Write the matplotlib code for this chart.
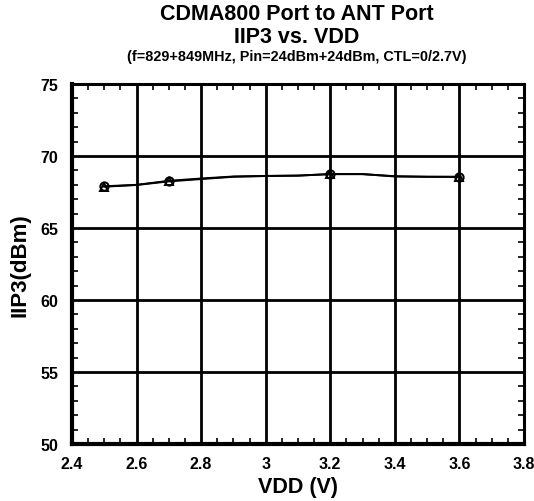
import matplotlib
matplotlib.use("Agg")
import matplotlib.pyplot as plt
from matplotlib.ticker import MultipleLocator

plt.rcParams['font.family'] = ['Liberation Sans', 'DejaVu Sans']
plt.rcParams['font.weight'] = 'bold'

vdd = [2.5, 2.6, 2.7, 2.8, 2.9, 3.0, 3.1, 3.2, 3.3, 3.4, 3.5, 3.6]
iip3_a = [67.87, 67.99, 68.24, 68.40, 68.56, 68.61, 68.64, 68.75, 68.75, 68.58, 68.56, 68.56]
iip3_b = [67.90, 68.00, 68.28, 68.44, 68.58, 68.62, 68.64, 68.74, 68.74, 68.60, 68.56, 68.55]
marker_idx = [0, 2, 7, 11]

fig = plt.figure(figsize=(5.34, 5.02), dpi=100)
ax = fig.add_axes([0.1348, 0.1135, 0.8464, 0.7171])

ax.plot(vdd, iip3_a, color='black', lw=1.4, marker='^', markevery=marker_idx,
        markersize=6, markerfacecolor='none', markeredgewidth=1.4)
ax.plot(vdd, iip3_b, color='black', lw=1.4, marker='o', markevery=marker_idx,
        markersize=6, markerfacecolor='none', markeredgewidth=1.4)

ax.set_xlim(2.4, 3.8)
ax.set_ylim(50, 75)
ax.xaxis.set_major_locator(MultipleLocator(0.2))
ax.xaxis.set_minor_locator(MultipleLocator(0.05))
ax.yaxis.set_major_locator(MultipleLocator(5))
ax.yaxis.set_minor_locator(MultipleLocator(1))
ax.set_xticks([2.4, 2.6, 2.8, 3.0, 3.2, 3.4, 3.6, 3.8])
ax.set_xticklabels(['2.4', '2.6', '2.8', '3', '3.2', '3.4', '3.6', '3.8'])

ax.grid(True, which='major', color='black', lw=2)
ax.tick_params(which='both', direction='in', top=True, right=True, labelsize=11.5)
ax.tick_params(axis='x', which='major', length=0, pad=8.5)
ax.tick_params(axis='y', which='major', length=0, pad=10)
ax.tick_params(which='minor', length=4, width=1.2)
for lab in ax.get_xticklabels() + ax.get_yticklabels():
    lab.set_fontweight('bold')

for s in ['left', 'bottom']:
    ax.spines[s].set_linewidth(3)
for s in ['top', 'right']:
    ax.spines[s].set_linewidth(2.2)

ax.set_xlabel('VDD (V)', fontsize=15.5, fontweight='bold', labelpad=4)
ax.set_ylabel('IIP3(dBm)', fontsize=16, fontweight='bold', labelpad=7)

fig.text(0.556, 0.971, 'CDMA800 Port to ANT Port', ha='center', va='center', fontsize=15.5, fontweight='bold')
fig.text(0.556, 0.925, 'IIP3 vs. VDD', ha='center', va='center', fontsize=15.5, fontweight='bold')
fig.text(0.556, 0.886, '(f=829+849MHz, Pin=24dBm+24dBm, CTL=0/2.7V)', ha='center', va='center', fontsize=10.4, fontweight='bold')

fig.savefig('out.png', dpi=100)
